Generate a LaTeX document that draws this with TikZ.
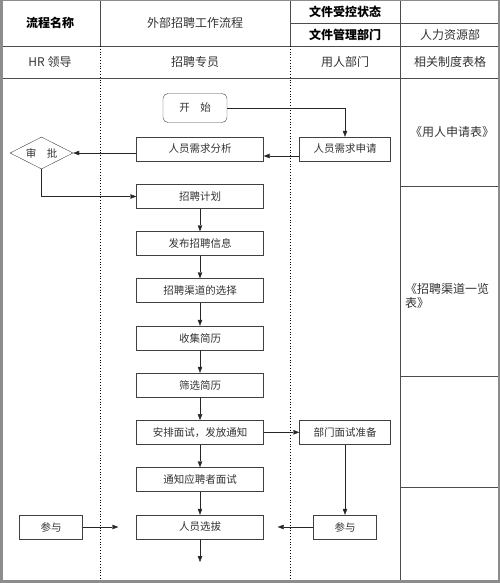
\documentclass[tikz,border=0pt]{standalone}
\usepackage{fontspec}
\setmainfont{Noto Sans CJK SC}
\usetikzlibrary{arrows.meta,shapes.geometric}
\begin{document}
\begin{tikzpicture}[x=1pt,y=-1pt,
  box/.style = {draw=black!75,minimum width=127pt,minimum height=24pt,inner sep=0pt,text=black!80,font=\fontsize{10.5}{12}\selectfont},
  sbox/.style = {box,minimum width=91pt},
  jbox/.style = {box,minimum width=63pt},
  head/.style = {text=black!80,font=\fontsize{12}{14}\selectfont},
  bhead/.style = {font=\fontsize{12}{14}\selectfont\bfseries},
  arrow/.style = {black!85,-{Triangle[length=6pt,width=4.5pt]}}]
  \useasboundingbox (0,0) rectangle (500,583);
  % table
  \draw[black!70] (290,23) -- (500,23);
  \draw[black!70] (0,46) -- (500,46);
  \draw[black!70] (0,78) -- (500,78);
  \draw[black!70] (100,0) -- (100,46);
  \draw[black!70] (290,0) -- (290,46);
  \draw[black!70] (400,0) -- (400,581);
  \draw[dotted,thick] (100,46) -- (100,581);
  \draw[dotted,thick] (290,46) -- (290,581);
  \foreach \y in {186,376,487}
    \draw[black!70] (400,\y) -- (500,\y);
  \draw[black!45,line width=2.5pt] (1.25,0) rectangle (498.75,581.5);

  \node[bhead] (name) at (50,23) {流程名称};
  \node[head] (title) at (195,23) {外部招聘工作流程};
  \node[bhead] (state) at (345,12) {文件受控状态};
  \node[bhead] (dept) at (345,35) {文件管理部门};
  \node[head] (hr) at (450,35) {人力资源部};
  \node[head] (lead) at (50,62) {HR 领导};
  \node[head] (spec) at (195,62) {招聘专员};
  \node[head] (user) at (345,62) {用人部门};
  \node[head] (forms) at (450,62) {相关制度表格};
  \node[head] (form1) at (452,132) {《用人申请表》};
  \node[head,align=left,inner sep=0pt,anchor=north west] (form2) at (405,283) {《招聘渠道一览\\表》};

  % flow
  \node[box,minimum width=64pt,minimum height=29pt,rounded corners=5pt] (start) at (195,108) {开\quad 始};
  \node[box] (analysis) at (200,149) {人员需求分析};
  \node[sbox] (apply) at (345,149) {人员需求申请};
  \node[box,diamond,aspect=2,minimum width=63pt,minimum height=32pt] (approve) at (41.5,153) {审\quad 批};
  \node[box] (plan) at (200,196.5) {招聘计划};
  \node[box] (publish) at (200,243.5) {发布招聘信息};
  \node[box] (channel) at (200,290.5) {招聘渠道的选择};
  \node[box] (collect) at (200,338) {收集简历};
  \node[box] (screen) at (200,385) {筛选简历};
  \node[box] (arrange) at (200,432.3) {安排面试，发放通知};
  \node[box] (notify) at (200,479.5) {通知应聘者面试};
  \node[box] (select) at (200,527) {人员选拔};
  \node[sbox] (prep) at (345,432.3) {部门面试准备};
  \node[jbox] (joinR) at (345,527) {参与};
  \node[jbox] (joinL) at (51,527) {参与};
  \coordinate (end) at (200,562);

  \draw[arrow] (start.east) -| (apply.north);
  \draw[arrow] ([yshift=-7pt]apply.west) -- ([yshift=-7pt]analysis.east);
  \draw[arrow] (analysis.west |- approve.east) -- (approve.east);
  \draw[arrow] (approve.south) |- (plan.west);
  \foreach \a/\b in {plan/publish,publish/channel,channel/collect,collect/screen,screen/arrange,arrange/notify,notify/select}
    \draw[arrow] (\a) -- (\b);
  \draw[arrow] (arrange.east) -- (prep.west);
  \draw[arrow] (prep.south) -- (joinR.north);
  \draw[arrow,shorten >=14pt] (joinR.west) -- (select.east);
  \draw[arrow,shorten >=18pt] (joinL.east) -- (select.west);
  \draw[arrow] (select.south) -- (end);
\end{tikzpicture}
\end{document}
